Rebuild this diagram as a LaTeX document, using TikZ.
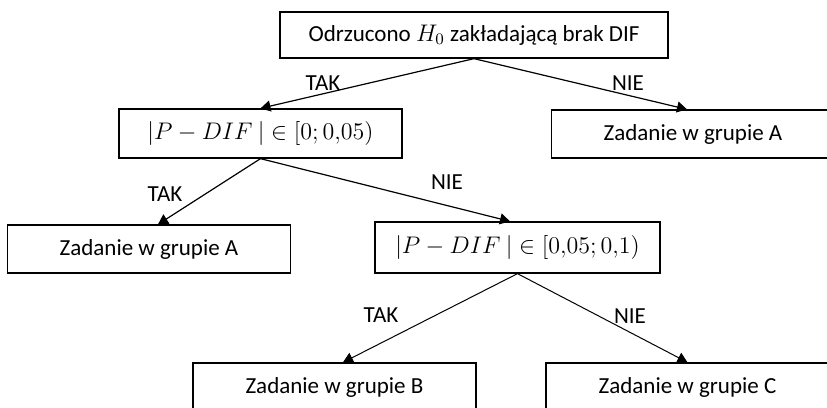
\documentclass[tikz,border=0pt]{standalone}
\usepackage{fontspec}
\setmainfont{Carlito}
\usetikzlibrary{positioning,arrows.meta}

\begin{document}
\begin{tikzpicture}[>={Triangle[length=5pt,width=5.5pt]},x=0.5pt,y=-0.5pt,
	font=\fontsize{11.5}{14}\selectfont,
	pole/.style={rectangle,draw,line width=0.65pt,inner sep=0pt,minimum width=141.5pt,minimum height=24pt},
	etykieta/.style={inner sep=0pt},
	strzalka/.style={->,line width=0.6pt}]
			
			\useasboundingbox (0,0) rectangle (827,408);
			\clip (0,0) rectangle (827,408);
			
			\node[pole,minimum width=194pt,minimum height=23pt] (hzero) at (474,35) {Odrzucono $H_0$ zakładającą brak DIF};
			
			\node[pole,minimum height=24.5pt] (zakres1) at (260.5,133.5) {$|P-DIF\ |\in[0;0{,}05)$};
			\node[pole] (grupaA1) at (693,134) {Zadanie w grupie A};
			
			\node[pole] (grupaA2) at (149,249) {Zadanie w grupie A};
			\node[pole,minimum width=142.5pt,minimum height=25.5pt] (zakres2) at (517.5,247.5) {$|P-DIF\ |\in[0{,}05;0{,}1)$};
			
			\node[pole] (grupaB) at (334.5,387) {Zadanie w grupie B};
			\node[pole] (grupaC) at (687.5,387) {Zadanie w grupie C};
			
			\draw[strzalka] (hzero.south)--(zakres1.north);
			\draw[strzalka] (hzero.south)--([xshift=-3pt]grupaA1.north);
			\draw[strzalka] (zakres1.south)--([xshift=4.5pt]grupaA2.north);
			\draw[strzalka] (zakres1.south)--([xshift=-3.75pt]zakres2.north);
			\draw[strzalka,line width=0.5pt] (zakres2.south)--([xshift=4.25pt]grupaB.north);
			\draw[strzalka,line width=0.5pt] (zakres2.south)--(grupaC.north);
			
			\node[etykieta] (tak1) at (323,83) {TAK};
			\node[etykieta] (nie1) at (628,83) {NIE};
			\node[etykieta] (tak2) at (165,194) {TAK};
			\node[etykieta] (nie2) at (447,182) {NIE};
			\node[etykieta] (tak3) at (381,315) {TAK};
			\node[etykieta] (nie3) at (630,316) {NIE};
			
		\end{tikzpicture}
\end{document}
